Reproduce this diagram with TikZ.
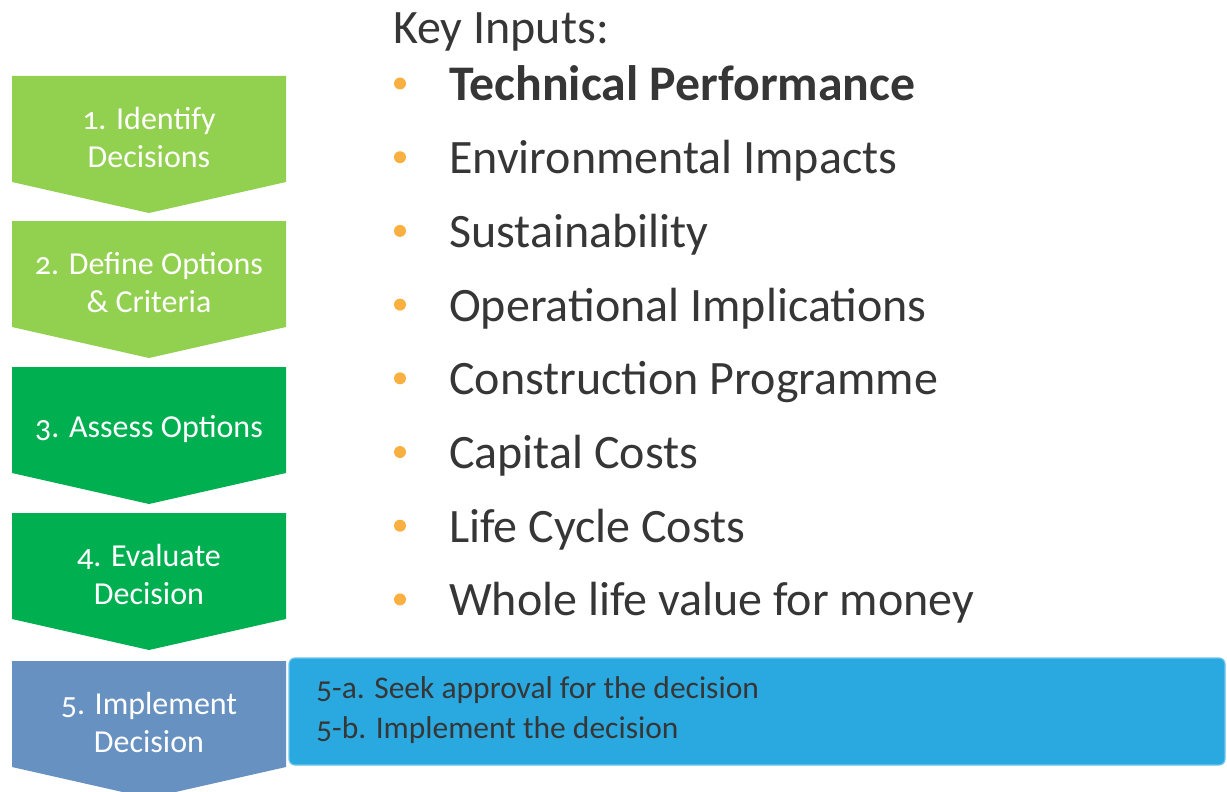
\documentclass[tikz,border=0pt]{standalone}
\usepackage{fontspec}
\setmainfont{Carlito}[Numbers=OldStyle]
\usetikzlibrary{positioning}

\definecolor{lightgreen}{HTML}{92D050}
\definecolor{darkgreen}{HTML}{00B050}
\definecolor{steelblue}{HTML}{6691C1}
\definecolor{skyblue}{HTML}{29A9E0}
\definecolor{skyedge}{HTML}{6CC4EC}
\definecolor{dotorange}{HTML}{FAB040}
\definecolor{textgrey}{HTML}{363636}

\begin{document}
\begin{tikzpicture}[x=1pt, y=-1pt,
  steptext/.style={text=white, align=center, font=\fontsize{32}{38}\selectfont},
  inputitem/.style={anchor=base west, inner sep=0pt, text=textgrey, font=\fontsize{48}{58}\selectfont},
  dot/.style={circle, fill=dotorange, inner sep=0pt, minimum size=12pt},
  subitem/.style={anchor=base west, inner sep=0pt, text=textgrey, font=\fontsize{31.5}{36}\selectfont}]
  \useasboundingbox (0,0) rectangle (1227,792);

  % process chevrons
  \foreach \n/\ytop/\col/\txt in {1/76/lightgreen/{1. Identify\\Decisions},
                                  2/221/lightgreen/{2. Define Options\\\& Criteria},
                                  3/367/darkgreen/{3. Assess Options},
                                  4/513/darkgreen/{4. Evaluate\\Decision},
                                  5/661/steelblue/{5. Implement\\Decision}} {
    \fill[\col] (12,\ytop) -- ++(274,0) -- ++(0,106) -- ++(-137,31) -- ++(-137,-31) -- cycle;
    \node[steptext] (step\n) at (149,\ytop+62) {\txt};
  }

  % key inputs list
  \node[inputitem] (keyinputs) at (393,44) {Key Inputs:};
  \foreach \txt [count=\i] in {{\fontsize{49.8}{58}\selectfont\bfseries Technical Performance},
                               Environmental Impacts, Sustainability,
                               Operational Implications, Construction Programme,
                               Capital Costs, Life Cycle Costs,
                               Whole life value for money} {
    \node[inputitem] (input\i) at (449,26.3+73.7*\i) {\txt};
    \node[dot] (dot\i) at (400,9.8+73.7*\i) {};
  }

  % implementation sub-steps
  \draw[fill=skyblue, draw=skyedge, line width=1.2pt, rounded corners=6pt]
    (289,658) rectangle (1225,765);
  \node[subitem] (sub5a) at (316,698) {5-a. Seek approval for the decision};
  \node[subitem] (sub5b) at (316,738) {5-b. Implement the decision};
\end{tikzpicture}
\end{document}
